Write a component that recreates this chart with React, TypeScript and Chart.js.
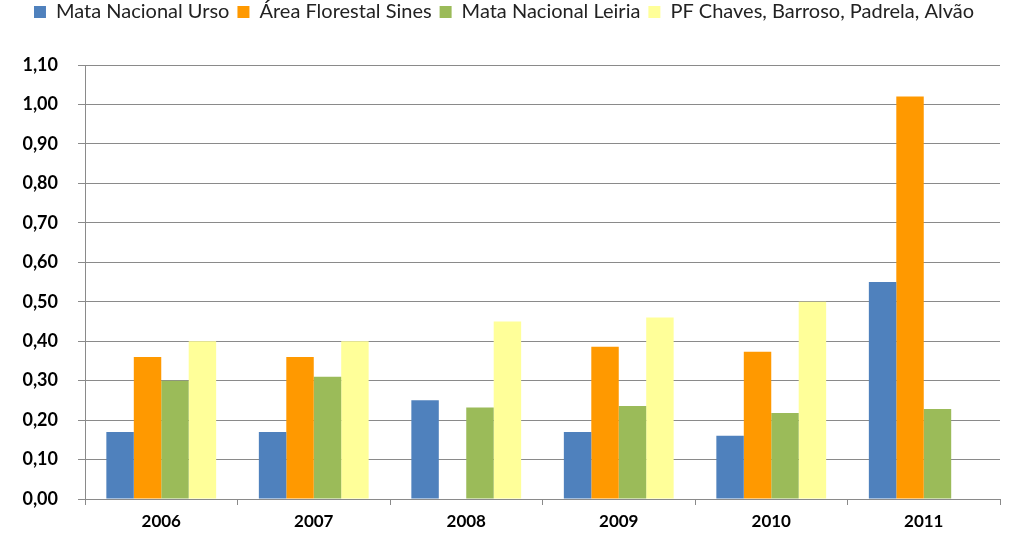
import React, { useEffect, useRef } from "react";
import { Chart, registerables } from "chart.js";

Chart.register(...registerables);

const categories = ["2006", "2007", "2008", "2009", "2010", "2011"];
const seriesNames = [
  "Mata Nacional Urso",
  "Área Florestal Sines",
  "Mata Nacional Leiria",
  "PF Chaves, Barroso, Padrela, Alvão",
];
const ursoValues = [0.17, 0.17, 0.25, 0.17, 0.16, 0.55];
const sinesValues = [0.36, 0.36, null, 0.386, 0.373, 1.02];
const leiriaValues = [0.3, 0.31, 0.232, 0.236, 0.218, 0.228];
const chavesValues = [0.4, 0.4, 0.45, 0.46, 0.5, null];
const seriesColors = ["#4F81BD", "#FF9900", "#9BBB59", "#FFFF99"];
const yMin = 0;
const yMax = 1.1;
const yStep = 0.1;

const FONT = "Lato, 'Liberation Sans', Arial, sans-serif";
const GRID = "#8a8a8a";

export default function App() {
  const ref = useRef<HTMLCanvasElement | null>(null);

  useEffect(() => {
    if (!ref.current) return;
    const allValues = [ursoValues, sinesValues, leiriaValues, chavesValues];
    const legendMargin = {
      id: "legendMargin",
      beforeInit(chart: any) {
        const legend = chart.legend;
        if (!legend) return;
        const origFit = legend.fit;
        legend.fit = function () {
          origFit.call(legend);
          legend.height = 65;
        };
        const origDraw = legend.draw;
        legend.draw = function (...args: any[]) {
          const ctx = chart.ctx;
          ctx.save();
          ctx.translate(0, -6);
          origDraw.apply(legend, args);
          ctx.restore();
        };
      },
    };
    const chart = new Chart(ref.current, {
      type: "bar",
      data: {
        labels: categories,
        datasets: seriesNames.map((name, i) => ({
          label: name,
          data: allValues[i] as any,
          backgroundColor: seriesColors[i],
          borderWidth: 0,
          barPercentage: 1,
          categoryPercentage: 0.72,
        })),
      },
      options: {
        animation: false,
        responsive: true,
        maintainAspectRatio: false,
        layout: { padding: { top: 0, left: 8, right: 24, bottom: 0 } },
        plugins: {
          legend: {
            position: "top",
            align: "center",
            labels: {
              boxWidth: 12,
              boxHeight: 12,
              padding: 8,
              color: "#222",
              font: { family: FONT, size: 20 },
            },
          },
          tooltip: { enabled: false },
        },
        scales: {
          x: {
            grid: {
              offset: true,
              drawOnChartArea: false,
              drawTicks: true,
              tickLength: 6,
              color: GRID,
            },
            border: { display: true, color: GRID },
            ticks: {
              color: "#000",
              padding: 6,
              font: { family: FONT, size: 17, weight: "bold" },
            },
            afterFit(scale: any) {
              scale.height = 38;
            },
          },
          y: {
            min: yMin,
            max: yMax,
            grid: {
              color: GRID,
              tickLength: 7,
              drawTicks: true,
            },
            border: { display: true, color: GRID },
            ticks: {
              stepSize: yStep,
              color: "#000",
              padding: 20,
              font: { family: FONT, size: 18, weight: "bold" },
              callback: (v: any) => (Math.round(Number(v) * 100) / 100).toFixed(2).replace(".", ","),
            },
            afterFit(scale: any) {
              scale.width = 77;
            },
          },
        },
      },
      plugins: [legendMargin],
    });
    return () => chart.destroy();
  }, []);

  return (
    <div style={{ position: "absolute", left: 0, top: 0, width: 1024, height: 537, background: "#fff" }}>
      <canvas ref={ref} />
    </div>
  );
}
